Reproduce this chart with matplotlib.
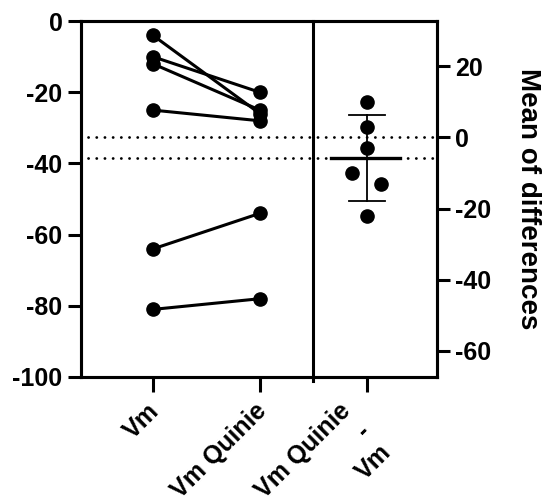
import matplotlib
matplotlib.use("Agg")
import matplotlib.pyplot as plt
import numpy as np

plt.rcParams['font.family'] = ['Liberation Sans', 'DejaVu Sans']
plt.rcParams['font.weight'] = 'bold'
plt.rcParams['axes.unicode_minus'] = False

# Data
categories = ["Vm", "Vm Quinie", "Vm Quinie\n-\nVm"]
vm = [-4, -10, -12, -25, -64, -81]
vm_quinie = [-26, -20, -25, -28, -54, -78]
left_ticks = [0, -20, -40, -60, -80, -100]
right_ticks = [20, 0, -20, -40, -60]
t_crit = 2.571  # t(0.975, df=5)

diffs = np.array(vm_quinie) - np.array(vm)
mean_vm = np.mean(vm)
mean_q = np.mean(vm_quinie)
mean_d = diffs.mean()
ci = t_crit * diffs.std(ddof=1) / np.sqrt(len(diffs))

# jitter offsets for difference points (styling)
jit = {-10: -0.14, -13: 0.13}

fig = plt.figure(figsize=(5.44, 5.04), dpi=100)
ax = fig.add_axes([0.149, 0.252, 0.654, 0.706])
ax2 = ax.twinx()

lw = 2.2
for a, b in zip(vm, vm_quinie):
    ax.plot([0, 1], [a, b], color='black', lw=lw, marker='o', ms=9.5,
            solid_capstyle='round', zorder=3)

# dotted mean lines
for m in (mean_vm, mean_q):
    ax.plot([-0.61, 2.655], [m, m], color='black', lw=2.0,
            dashes=(0.05, 2.9), dash_capstyle='round', zorder=2)

ax.axvline(1.5, ymin=-0.01, ymax=1, color='black', lw=2.2, zorder=2, clip_on=False)

ax.set_xlim(-0.673, 2.654)
ax.set_ylim(-100, 0)
ax.set_yticks(left_ticks)
ax.set_xticks([0, 1, 2])
ax.set_xticklabels([])

# category labels (rotated)
for i, lab in enumerate(categories):
    dx = -23 if '\n' in lab else 0
    ax.annotate(lab, xy=(i, 0), xycoords=('data', 'axes fraction'),
                xytext=(-6 + dx, -22), textcoords='offset pixels',
                rotation=45, ha='right', va='top', rotation_mode='anchor',
                multialignment='right', fontsize=18, fontweight='bold',
                linespacing=1.25, annotation_clip=False)

# right axis aligned: 0 at mean of first group
ax2.set_ylim(-100 - mean_vm, 0 - mean_vm)
ax2.set_yticks(right_ticks)

xs = [2 + jit.get(int(round(d)), 0.0) for d in diffs]
ax2.plot(xs, diffs, 'o', color='black', ms=9.5, zorder=4, linestyle='none')
ax2.plot([1.665, 2.31], [mean_d, mean_d], color='black', lw=2.4, zorder=5)
ax2.plot([2, 2], [mean_d - ci, mean_d + ci], color='black', lw=1.3, zorder=5)
for y in (mean_d - ci, mean_d + ci):
    ax2.plot([1.83, 2.17], [y, y], color='black', lw=1.3, zorder=5)

fig.text(528 / 544, 1 - 199 / 504, "Mean of differences", rotation=-90,
         ha='center', va='center', fontsize=20, fontweight='bold')

for a in (ax, ax2):
    for s in a.spines.values():
        s.set_linewidth(2.2)
    a.tick_params(width=2.2, length=9.5, labelsize=18, pad=3.8)
    for lab in a.get_yticklabels():
        lab.set_fontweight('bold')
ax.tick_params(axis='x', length=10.5)

fig.savefig("out.png", dpi=100)
